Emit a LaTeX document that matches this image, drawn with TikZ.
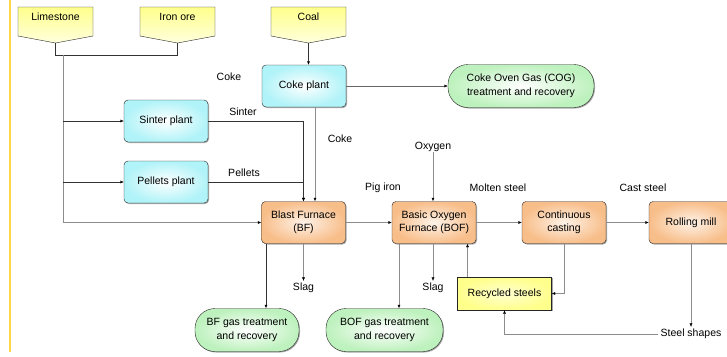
\documentclass[tikz,border=0pt]{standalone}
\usepackage{fontspec}
\setmainfont{Liberation Sans}
\usetikzlibrary{arrows.meta,shadows}
\definecolor{cyanbox}{HTML}{B0F3F8}
\definecolor{orangebox}{HTML}{F8BE8A}
\definecolor{greenbox}{HTML}{BDF1BD}
\definecolor{yellowbox}{HTML}{FFFF8C}
\definecolor{margin}{HTML}{FFD54A}
\begin{document}
\begin{tikzpicture}%
	[x=1pt, y=-1pt,
	font=\fontsize{10.5}{13.5}\selectfont,
	txt/.style={inner sep=0pt, align=center},
	box/.style={draw=black!85, rounded corners=4pt, minimum width=84pt, minimum height=42pt, align=center, inner sep=1pt,
		drop shadow={shadow xshift=1pt, shadow yshift=-1pt, fill=black!35, opacity=1}},
	plant/.style={box, inner color=white, outer color=cyanbox},
	furnace/.style={box, inner color=white!80!orangebox, outer color=orangebox},
	gas/.style={box, rounded corners=20pt, minimum height=43pt, inner color=white, outer color=greenbox},
	recycle/.style={draw=black!85, minimum width=94pt, minimum height=33pt, inner color=white!60!yellowbox, outer color=yellowbox,
		drop shadow={shadow xshift=1pt, shadow yshift=-1pt, fill=black!35, opacity=1}},
	inputbox/.style={draw=black!85, top color=yellowbox, bottom color=yellowbox!30},
	flow/.style={draw=black!45, -{Latex[black, length=3.5pt, width=3pt]}},
	darkflow/.style={draw=black!80, -{Latex[black, length=3.5pt, width=3pt]}},
	link/.style={draw=black!45}]
	\useasboundingbox (0,0) rectangle (727,356);
	\draw[margin, line width=1.5pt] (10,0) -- (10,352);

	% raw materials
	\foreach \nm/\cx/\txt in {lime/55.5/Limestone, ore/177.5/Iron ore, coal/308.5/Coal} {
		\shade[inputbox] (\cx-37.5,7) -- (\cx+37.5,7) -- (\cx+37.5,36) -- (\cx,43) -- (\cx-37.5,36) -- cycle;
		\node[txt] (\nm) at (\cx,17) {\txt};
		\coordinate (\nm-tip) at (\cx,43);
	}

	% plants and furnaces
	\node[plant] (coke) at (304,86) {Coke plant};
	\node[plant] (sinter) at (166,121) {Sinter plant};
	\node[plant] (pellets) at (166,182) {Pellets plant};
	\node[gas, minimum width=146pt] (cog) at (521,86) {Coke Oven Gas (COG)\\treatment and recovery};
	\node[furnace] (bf) at (303.5,222.5) {Blast Furnace\\(BF)};
	\node[furnace] (bof) at (434,222.5) {Basic Oxygen\\Furnace (BOF)};
	\node[furnace] (cc) at (564,222.5) {Continuous\\casting};
	\node[furnace] (rm) at (691,222.5) {Rolling mill};
	\node[gas, minimum width=104pt] (bfgas) at (247,330) {BF gas treatment\\and recovery};
	\node[gas, minimum width=117pt] (bofgas) at (384.5,330) {BOF gas treatment\\and recovery};
	\node[recycle] (recycled) at (504.5,293.5) {Recycled steels};

	% labels
	\node[txt] (cokelbl) at (229,77) {Coke};
	\node[txt] (sinterlbl) at (243,112) {Sinter};
	\node[txt] (cokelbl2) at (340,139) {Coke};
	\node[txt] (pelletslbl) at (244,173) {Pellets};
	\node[txt] (oxygen) at (433,147) {Oxygen};
	\node[txt] (piglbl) at (383,188) {Pig iron};
	\node[txt] (moltenlbl) at (498,188) {Molten steel};
	\node[txt] (castlbl) at (643,188) {Cast steel};
	\node[txt, inner sep=2pt] (slag1) at (303.5,288) {Slag};
	\node[txt, inner sep=2pt] (slag2) at (433,288) {Slag};
	\node[txt, inner sep=2pt] (shapes) at (691,334) {Steel shapes};

	% raw material feed
	\draw[darkflow, -] (lime-tip) -- ++(0,12) -| (ore-tip);
	\coordinate (trunk) at (63,55);
	\draw[link] (trunk) -- (trunk |- bf.west);
	\draw[darkflow] (trunk |- sinter.west) -- (sinter.west);
	\draw[darkflow] (trunk |- pellets.west) -- (pellets.west);
	\draw[flow] (trunk |- bf.west) -- (bf.west);
	\draw[darkflow] (coal-tip) -- (coal-tip |- coke.north);
	\draw[darkflow, draw=black!60] (coke.east) -- (cog.west);

	% into the blast furnace
	\draw[darkflow] (sinter.east) -| (bf.north);
	\draw[darkflow] (pellets.east) -| (bf.north);
	\draw[flow] ([xshift=11pt]coke.south) -- ([xshift=11pt]coke.south |- bf.north);

	% iron and steel route
	\draw[darkflow] ([xshift=-37.5pt]bf.south) -- ([xshift=-37.5pt]bf.south |- bfgas.north);
	\draw[flow] (bf.south) -- (slag1.north);
	\draw[flow] (bf.east) -- (bof.west);
	\draw[flow] (oxygen.south) -- (oxygen.south |- bof.north);
	\draw[flow] ([xshift=-35pt]bof.south) -- ([xshift=-35pt]bof.south |- bofgas.north);
	\draw[flow] (bof.south -| slag2) -- (slag2.north);
	\draw[flow] ([xshift=-37pt]recycled.north) -- ([xshift=-37pt]recycled.north |- bof.south);
	\draw[flow] (bof.east) -- (cc.west);
	\draw[flow] (cc.south) |- (recycled.east);
	\draw[flow] (cc.east) -- (rm.west);
	\draw[flow] (rm.south) -- (shapes.north);
	\draw[flow] (shapes.west) -| (recycled.south);
\end{tikzpicture}
\end{document}
